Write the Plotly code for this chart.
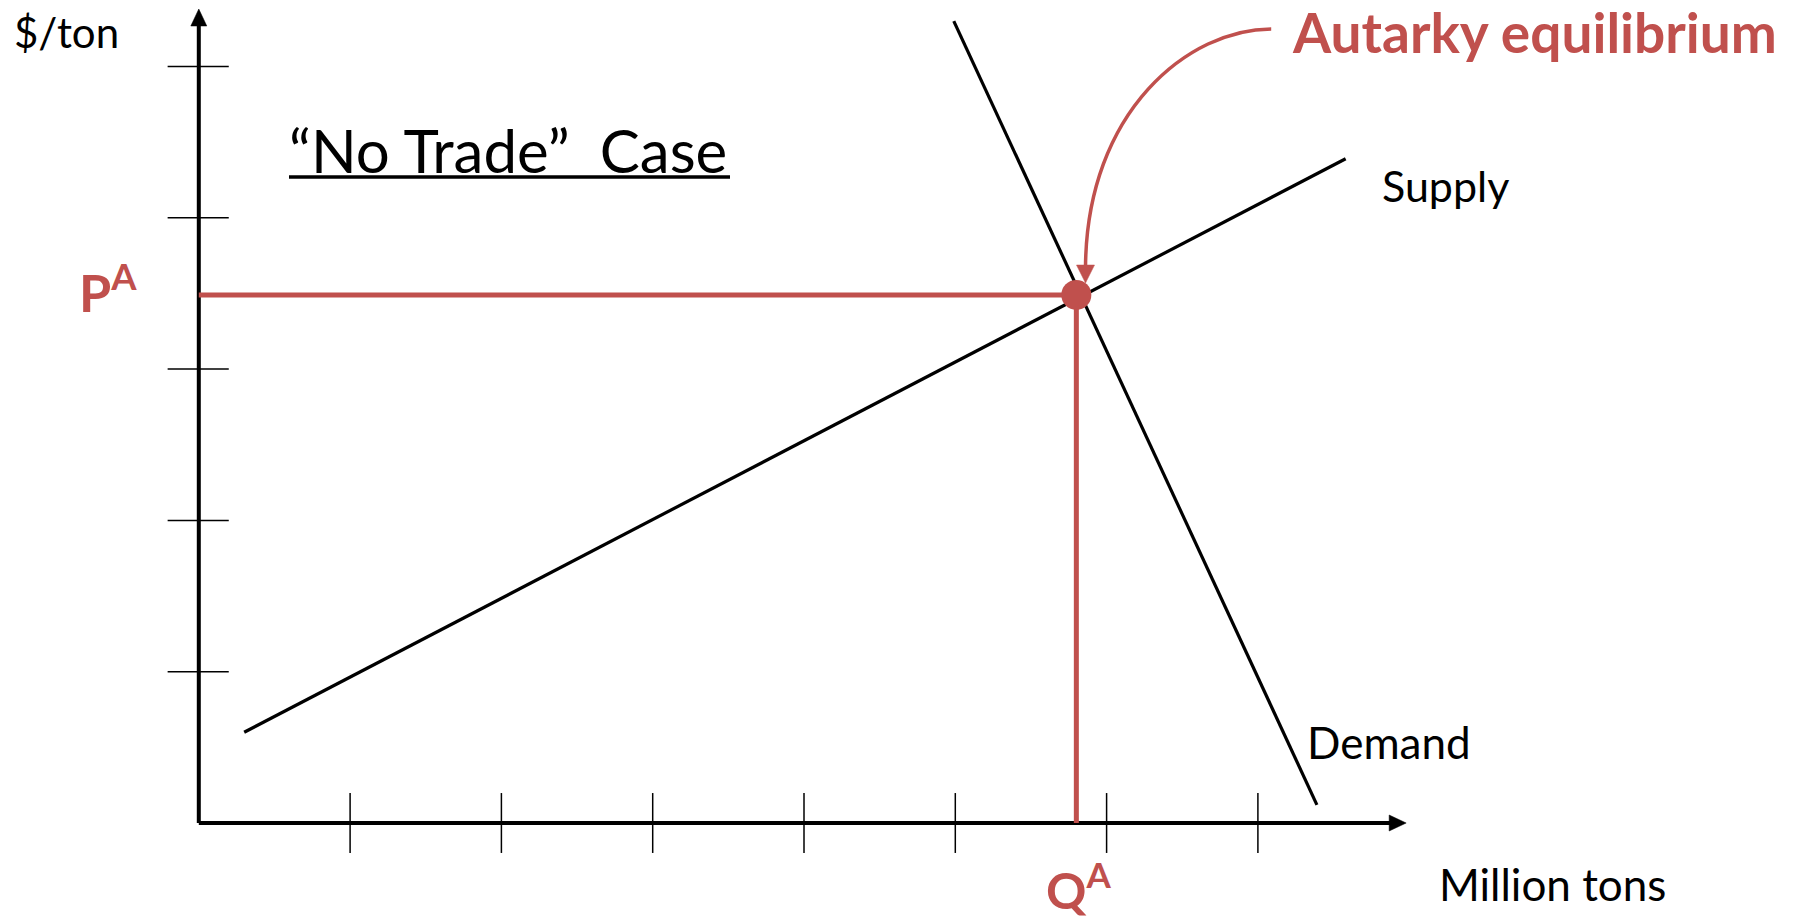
import plotly.graph_objects as go

# ---- data (in chart units: one tick = 1 unit) ----
x_ticks = [1, 2, 3, 4, 5, 6, 7]
y_ticks = [1, 2, 3, 4, 5]
supply_q = [0.30, 7.58]
supply_p = [0.60, 4.39]
demand_q = [4.99, 7.39]
demand_p = [5.30, 0.12]
eq_q = 5.80
eq_p = 3.49
x_axis_end = 7.98
y_axis_end = 5.38

RED = "#C0504D"
FONT = "Lato"
W, H = 1812, 920
# pixel mapping used for the axis ranges (origin at px 198.8, 823; 151.3 px per unit)
OX, OY, U = 198.8, 823.0, 151.3
xr = [-OX / U, (W - OX) / U]
yr = [(OY - H) / U, OY / U]

def dx(px):
    return (px - OX) / U

def dy(py):
    return (OY - py) / U

def pp(x, y):
    return x / W, 1 - y / H

fig = go.Figure()

# tick marks
tx, ty = [], []
for t in x_ticks:
    tx += [t, t, None]
    ty += [0.198, -0.198, None]
for t in y_ticks:
    tx += [-0.206, 0.198, None]
    ty += [t, t, None]
fig.add_trace(go.Scatter(x=tx, y=ty, mode="lines", line=dict(color="black", width=1.5),
                         hoverinfo="skip", showlegend=False))

# axes
fig.add_trace(go.Scatter(x=[0, 0, None, 0, x_axis_end - 0.1], y=[y_axis_end - 0.1, 0, None, 0, 0],
                         mode="lines", line=dict(color="black", width=4), hoverinfo="skip",
                         showlegend=False))

# supply & demand
fig.add_trace(go.Scatter(x=supply_q, y=supply_p, mode="lines", line=dict(color="black", width=3.2),
                         name="Supply", showlegend=False))
fig.add_trace(go.Scatter(x=demand_q, y=demand_p, mode="lines", line=dict(color="black", width=3.2),
                         name="Demand", showlegend=False))

# red guide lines
fig.add_trace(go.Scatter(x=[0, eq_q, eq_q], y=[eq_p, eq_p, 0], mode="lines",
                         line=dict(color=RED, width=5), showlegend=False, hoverinfo="skip"))
fig.add_trace(go.Scatter(x=[eq_q], y=[eq_p], mode="markers",
                         marker=dict(color=RED, size=30), showlegend=False))

shapes = []

def tri(points, color):
    d = "M " + " L ".join("{} {}".format(a, b) for a, b in points) + " Z"
    shapes.append(dict(type="path", path=d, xref="x", yref="y", fillcolor=color,
                       line=dict(color=color, width=0.5)))

# axis arrowheads (16 px wide, 17 px long)
hw, hl = 8 / U, 17 / U
tri([(0, y_axis_end), (-hw, y_axis_end - hl), (hw, y_axis_end - hl)], "black")
tri([(x_axis_end, 0), (x_axis_end - hl, hw), (x_axis_end - hl, -hw)], "black")

# curved callout arrow
p0 = (dx(1271.2), dy(28.9))
p1 = (dx(1190.0), dy(28.9))
p2 = (dx(1086.3), dy(110.0))
p3 = (dx(1085.5), dy(268.0))
path = "M {} {} C {} {}, {} {}, {} {}".format(p0[0], p0[1], p1[0], p1[1], p2[0], p2[1], p3[0], p3[1])
shapes.append(dict(type="path", path=path, xref="x", yref="y", line=dict(color=RED, width=3.5)))
tip_x, tip_y = dx(1085.5), dy(283.0)
tri([(tip_x, tip_y), (tip_x - 9 / U, tip_y + 18 / U), (tip_x + 9 / U, tip_y + 18 / U)], RED)

# underline of title
x0, y0 = pp(289, 177)
x1, _ = pp(730, 177)
shapes.append(dict(type="line", xref="paper", yref="paper", x0=x0, x1=x1, y0=y0, y1=y0,
                   line=dict(color="black", width=3.5)))

annotations = []

def txt(text, x, y, size, color="black", xanchor="left"):
    px_, py_ = pp(x, y)
    annotations.append(dict(text=text, x=px_, y=py_, xref="paper", yref="paper", showarrow=False,
                            xanchor=xanchor, yanchor="middle",
                            font=dict(family=FONT, size=size, color=color)))

txt("$/ton", 12, 32, 42)
txt("“No Trade”  Case", 287, 150, 60)
txt("Supply", 1380, 185, 43)
txt("Demand", 1305, 742, 44)
txt("Million tons", 1437, 884, 44)
txt("<b>Autarky equilibrium</b>", 1290, 32, 55, RED)
txt("<b>P<sup>A</sup></b>", 77, 288, 52, RED)
txt("<b>Q<sup>A</sup></b>", 1044, 886, 50, RED)

fig.update_layout(
    width=W, height=H, margin=dict(l=0, r=0, t=0, b=0),
    paper_bgcolor="white", plot_bgcolor="white",
    xaxis=dict(range=xr, visible=False, fixedrange=True),
    yaxis=dict(range=yr, visible=False, fixedrange=True),
    annotations=annotations, shapes=shapes, showlegend=False,
)
fig.write_html("out.html", config={"displayModeBar": False},
               post_script="document.body.style.margin='0px';")
